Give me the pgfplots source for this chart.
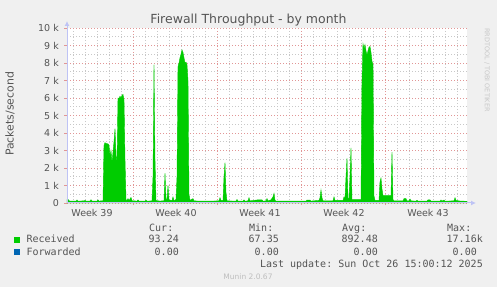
\documentclass[border=0pt]{standalone}
\usepackage{pgfplots}
\pgfplotsset{compat=1.18}
\usepackage{fontspec}
\setmainfont{DejaVu Sans}
\newfontfamily\mono{DejaVu Sans Mono}
\usetikzlibrary{arrows.meta}
\frenchspacing
\definecolor{bg}{HTML}{F0F0F0}
\definecolor{rcv}{HTML}{00CC00}
\definecolor{fwd}{HTML}{0066B3}
\definecolor{txt}{HTML}{555555}
\definecolor{mgrid}{RGB}{225,150,150}
\definecolor{ngrid}{RGB}{200,200,200}
\definecolor{axc}{RGB}{190,195,245}
\pgfplotstableread{
x y
67 200
68 210
69 130
70 110
76 110
77 170
78 110
84 120
85 150
86 110
90 110
91 190
92 110
97 110
98 180
99 110
103 130
104 3300
105 3450
106 3400
108 3380
109 3300
110 2700
111 3000
112 2300
113 2900
114 3500
115 4250
116 2700
117 2400
118 6000
119 5950
120 6100
121 6000
122 6150
123 6200
124 5900
125 2500
126 200
127 130
128 250
129 140
131 320
132 130
137 110
138 180
139 110
145 110
146 160
147 110
152 120
153 1500
154 7900
155 2500
156 140
160 110
164 130
165 1700
166 250
167 180
168 1000
169 180
172 140
173 350
174 130
176 200
177 1500
178 7800
179 8000
180 8300
181 8500
182 8750
183 8600
184 8300
185 8000
186 8050
187 7900
188 7000
189 500
190 150
193 250
194 120
200 110
210 110
219 120
220 300
221 150
223 150
224 1500
225 2300
226 600
227 120
236 110
237 200
238 110
243 110
244 180
245 110
248 120
249 300
250 120
258 180
262 180
263 110
266 120
267 250
268 120
271 180
273 350
274 550
275 150
276 110
290 110
306 110
307 170
310 170
311 110
319 150
320 300
321 750
322 300
323 120
333 120
334 350
335 150
343 150
344 350
345 250
346 1500
347 2550
348 200
349 300
350 1500
351 3150
352 200
361 200
362 7000
363 9100
364 8800
365 9050
366 8700
367 8450
368 8700
369 8900
370 8950
371 8600
372 8100
373 7900
374 400
375 150
379 150
380 1200
381 1430
382 800
383 420
391 420
392 2900
393 200
394 120
403 120
404 250
406 250
407 120
409 120
410 230
411 120
416 110
417 150
418 110
427 110
428 180
430 180
431 110
440 110
441 170
442 110
444 170
445 110
454 120
455 300
456 150
460 110
466 100
467 100
}\rcvdata
\begin{document}
\frenchspacing
\begin{tikzpicture}
\fill[bg] (0,0) rectangle (497bp,287bp);
\begin{axis}[
  at={(67bp,84bp)}, anchor=south west,
  scale only axis, width=400bp, height=175bp,
  xmin=67, xmax=467, ymin=0, ymax=10000,
  scaled y ticks=false, scaled x ticks=false,
  axis background/.style={fill=white},
  axis line style={draw=none},
  xtick pos=bottom, ytick pos=left,
  tick align=outside,
  major tick length=2.5bp, minor tick length=0pt,
  major tick style={mgrid, line width=0.8bp},
  xtick={133,217,301,385}, xticklabels={},
  minor xtick={73,85,97,109,121,145,157,169,181,193,205,229,241,253,265,277,289,313,325,337,349,361,373,397,409,421,433,445,457},
  ytick={0,1000,...,10000},
  yticklabels={0\hspace{5bp},1 k,2 k,3 k,4 k,5 k,6 k,7 k,8 k,9 k,10 k},
  minor ytick={500,1500,...,9500},
  grid=both,
  major grid style={mgrid, line width=0.8bp, dash pattern=on 1bp off 2bp},
  minor grid style={ngrid, line width=0.8bp, dash pattern=on 1bp off 2bp},
  extra x ticks={92,176,260,344,428},
  extra x tick labels={Week 39,Week 40,Week 41,Week 42,Week 43},
  extra x tick style={grid=none, major tick length=0pt,
    xticklabel style={anchor=base, yshift=-13.2bp, inner sep=0pt}},
  ticklabel style={font=\fontsize{9.5bp}{11bp}\selectfont, text=txt},
  yticklabel style={anchor=east, inner sep=0pt, xshift=-5.5bp},
  clip=false,
]
\addplot[fill=rcv, draw=rcv, line width=0.4bp] table[x=x,y=y]{\rcvdata} \closedcycle;
\end{axis}
% axes with arrows
\draw[axc, line width=1bp, -{Latex[length=5bp,width=5bp]}] (67bp,84bp) -- (67bp,266bp);
\draw[axc, line width=1bp, -{Latex[length=5bp,width=5bp]}] (67bp,84bp) -- (476bp,84bp);
% title and labels
\node[anchor=base, inner sep=0pt, text=txt, font=\fontsize{12.5bp}{14bp}\selectfont] at (248.5bp,263bp) {Firewall Throughput - by month};
\node[rotate=90, inner sep=0pt, text=txt, font=\fontsize{10.9bp}{13bp}\selectfont] at (10bp,173bp) {Packets/second};
\node[rotate=-90, inner sep=0pt, text={rgb,255:red,200;green,200;blue,200}, font=\fontsize{6.5bp}{8bp}\selectfont] at (487bp,217bp) {RRDTOOL / TOBI OETIKER};
% legend
\begin{scope}[every node/.style={inner sep=0pt, text=txt, font=\mono\frenchspacing\fontsize{10bp}{12bp}\selectfont}]
\node[anchor=base west] at (149bp,55.7bp) {Cur:};
\node[anchor=base west] at (249bp,55.7bp) {Min:};
\node[anchor=base west] at (342bp,55.7bp) {Avg:};
\node[anchor=base west] at (447bp,55.7bp) {Max:};
\fill[rcv] (14bp,44.3bp) rectangle (20bp,50.3bp);
\fill[fwd] (14bp,32.0bp) rectangle (20bp,38.0bp);
\node[anchor=base west] at (26.3bp,44bp) {Received};
\node[anchor=base west] at (26.3bp,31.7bp) {Forwarded};
\node[anchor=base east] at (179bp,44bp) {93.24};
\node[anchor=base east] at (279bp,44bp) {67.35};
\node[anchor=base east] at (378bp,44bp) {892.48};
\node[anchor=base east] at (483bp,44bp) {17.16k};
\node[anchor=base east] at (179bp,31.7bp) {0.00};
\node[anchor=base east] at (279bp,31.7bp) {0.00};
\node[anchor=base east] at (378bp,31.7bp) {0.00};
\node[anchor=base east] at (477bp,31.7bp) {0.00};
\node[anchor=base east] at (483bp,20bp) {Last update: Sun Oct 26 15:00:12 2025};
\end{scope}
\node[anchor=base, inner sep=0pt, text={rgb,255:red,190;green,190;blue,190}, font=\fontsize{7.5bp}{9bp}\selectfont] at (248bp,7.6bp) {Munin 2.0.67};
\pgfresetboundingbox
\useasboundingbox (0,0) rectangle (497bp,287bp);
\end{tikzpicture}
\end{document}
